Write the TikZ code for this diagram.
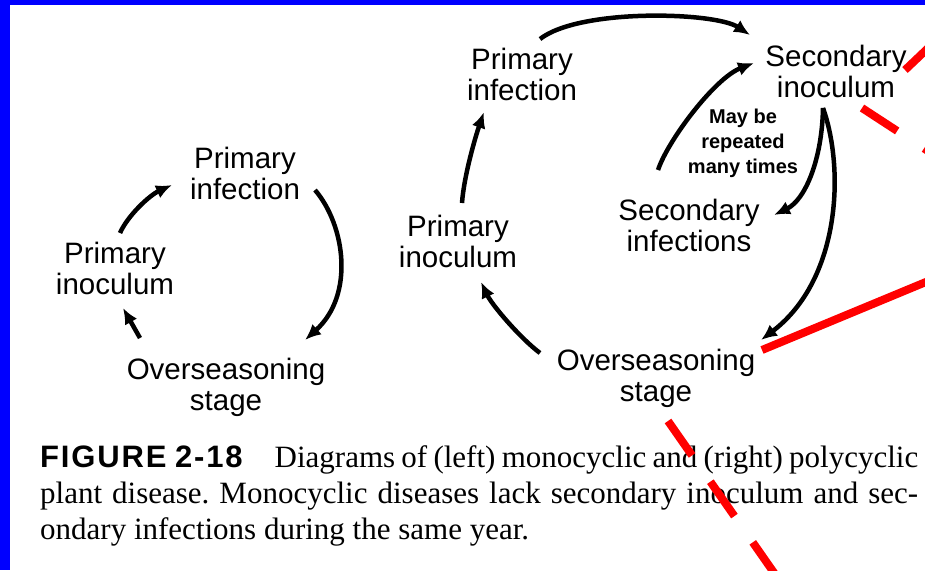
\documentclass[tikz,border=0pt]{standalone}
\usepackage{fontspec}
\setmainfont{Liberation Serif}
\setsansfont{Liberation Sans}
\usetikzlibrary{arrows.meta}
\frenchspacing

\tikzset{
  stagelbl/.style={font=\sffamily\fontsize{29.5}{31}\selectfont, align=center, inner sep=0pt},
  notelbl/.style={font=\sffamily\bfseries\fontsize{20}{25}\selectfont, align=center, inner sep=0pt},
  caplbl/.style={font=\fontsize{31}{36}\selectfont, anchor=base west, inner sep=0pt},
  cycarrow/.style={line width=4.5pt, -{Latex[length=16pt,width=14pt]}},
  redmark/.style={draw=red, line width=8pt},
  reddash/.style={redmark, dash pattern=on 42pt off 32pt},
}

\begin{document}
\begin{tikzpicture}[x=1pt,y=-1pt,line join=round]
\useasboundingbox (0,0) rectangle (925,570);
\fill[white] (0,0) rectangle (925,570);
\begin{scope}
\clip (0,0) rectangle (925,570);
%%
% Node: left cycle
\node[stagelbl] (lpinf)  at (245,173) {Primary\\infection};
\node[stagelbl] (lpinoc) at (115,268) {Primary\\inoculum};
\node[stagelbl] (lover)  at (226,387) {Overseasoning\\stage};
% Node: right cycle
\node[stagelbl] (rpinf)  at (522,74)  {Primary\\infection};
\node[stagelbl] (rsinoc) at (836,71)  {Secondary\\inoculum};
\node[stagelbl] (rsinf)  at (689,225) {Secondary\\infections};
\node[stagelbl] (rpinoc) at (458,241) {Primary\\inoculum};
\node[stagelbl] (rover)  at (656,378) {Overseasoning\\stage};
\node[notelbl]  (repeat) at (743,143) {May be\\repeated\\many times};
%
% Edge: lpinoc -> lpinf
\draw[cycarrow] ([shift={(5,-35)}]lpinoc.center) .. controls +(8,-18) and +(-22,10) .. ([shift={(-73,12)}]lpinf.center);
% Edge: lpinf -> lover
\draw[cycarrow] ([shift={(70,17)}]lpinf.center) .. controls +(30,35) and +(50,-45) .. ([shift={(79,-47)}]lover.center);
% Edge: lover -> lpinoc
\draw[cycarrow] ([shift={(-86,-49)}]lover.center) -- ([shift={(8,40)}]lpinoc.center);
%
% Edge: rpinf -> rsinoc
\draw[cycarrow] ([shift={(18,-35)}]rpinf.center) .. controls +(40,-31) and +(-35,-23) .. ([shift={(-86,-36)}]rsinoc.center);
% Edge: rsinf -> rsinoc
\draw[cycarrow] ([shift={(-31,-55)}]rsinf.center) .. controls +(10,-30) and +(-39,15) .. ([shift={(-82,-8)}]rsinoc.center);
% Edge: rsinoc -> rsinf
\draw[cycarrow] ([shift={(-13,37)}]rsinoc.center) .. controls +(-1,52) and +(31,-15) .. ([shift={(85,-10)}]rsinf.center);
% Edge: rsinoc -> rover
\draw[cycarrow] ([shift={(-13,37)}]rsinoc.center) .. controls +(22,62) and +(79,-60) .. ([shift={(105,-38)}]rover.center);
% Edge: rover -> rpinoc
\draw[cycarrow] ([shift={(-116,-25)}]rover.center) .. controls +(-20,-15) and +(11,23) .. ([shift={(23,41)}]rpinoc.center);
% Edge: rpinoc -> rpinf
\draw[cycarrow] ([shift={(4,-38)}]rpinoc.center) .. controls +(2,-28) and +(-8,23) .. ([shift={(-38,38)}]rpinf.center);
%
% Caption
\node[caplbl] (cap1) at (40,467) {\makebox[878pt][s]{{\sffamily\bfseries\addfontfeatures{LetterSpace=6}FIGURE 2-18}\hspace{32pt}Diagrams of (left) monocyclic and (right) polycyclic}};
\node[caplbl] (cap2) at (40,503) {\makebox[878pt][s]{plant disease. Monocyclic diseases lack secondary inoculum and sec-}};
\node[caplbl] (cap3) at (40,539) {ondary infections during the same year.};
%
% red marks over the page
\draw[redmark] (905,70) -- (945,32);
\draw[reddash] (862,108) -- (1000,198);
\draw[redmark] (762,350) -- (950,272);
\draw[reddash] (668,421) -- (800,610);
% blue frame
\fill[blue] (0,0) rectangle (10,570);
\fill[blue] (0,0) rectangle (925,5);
\end{scope}
%
\end{tikzpicture}
\end{document}
